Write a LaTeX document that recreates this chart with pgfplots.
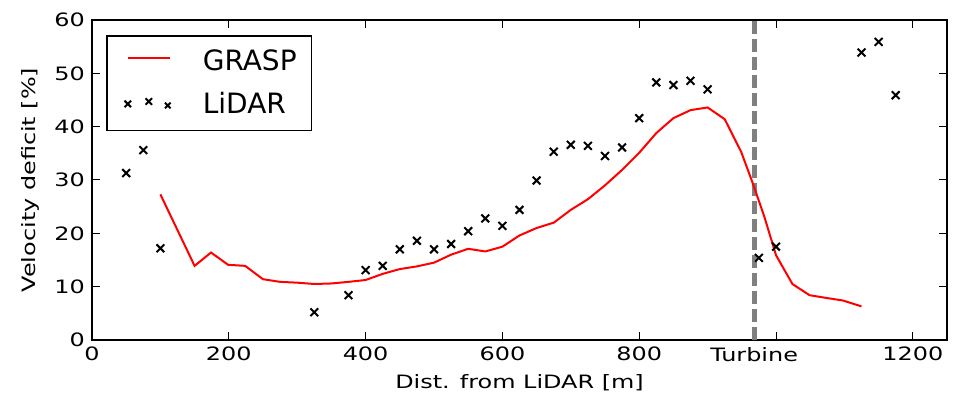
\documentclass[border=0pt]{standalone}
\usepackage{fontspec}
\setmainfont{DejaVu Sans}
\newfontfamily\widefont{DejaVu Sans}[FakeStretch=1.3]
\usepackage{pgfplots}
\pgfplotsset{compat=1.18}
\definecolor{turbgray}{RGB}{128,128,128}
\pgfplotsset{
    shortline legend/.style={
        legend image code/.code={\path (0pt,0pt); \draw[##1] (2.5pt,1.8pt) -- (23.5pt,1.8pt);}},
    threemarks legend/.style={
        legend image code/.code={\path (0pt,0pt);
            \draw[##1, mark size=2.3pt] plot coordinates {(2.5pt,0.2pt) (13pt,1.4pt)};
            \draw[##1, mark size=2pt] plot coordinates {(22.5pt,-0.6pt)};}},
}

\begin{document}
\begin{tikzpicture}
\begin{axis}[
    scale only axis,
    width=427.5pt, height=160pt,
    xmin=0, xmax=1250,
    ymin=0, ymax=60,
    xtick={0,200,400,600,800,968,1200},
    xticklabels={0,200,400,600,800,Turbine,1200},
    extra x ticks={1000},
    extra x tick labels={},
    ytick={0,10,...,60},
    tick align=inside,
    tick pos=both,
    major tick length=4pt,
    axis line style={line width=0.8pt},
    every tick/.style={black, line width=0.5pt},
    /pgf/number format/assume math mode=true,
    tick label style={font=\widefont\fontsize{9.2}{11}\selectfont},
    every axis x label/.style={at={(axis description cs:0.5,0)}, yshift=-21.5pt,
        anchor=center, font=\widefont\fontsize{9.2}{11}\selectfont},
    every axis y label/.style={at={(axis description cs:0,0.5)}, xshift=-31pt,
        rotate=90, anchor=center, font=\widefont\fontsize{9.2}{11}\selectfont},
    xlabel={Dist. from LiDAR [m]},
    ylabel={Velocity deficit [\%]},
    legend style={
        at={(axis description cs:0,1)}, anchor=north west,
        xshift=7pt, yshift=-7.5pt,
        draw=black, line width=0.8pt,
        font=\fontsize{14}{16}\selectfont,
        inner xsep=7.5pt, inner ysep=7pt,
        nodes={inner sep=0pt},
        row sep=9.3pt,
        /tikz/every odd column/.append style={column sep=16pt},
    },
    legend cell align=left,
]
\addplot[turbgray, line width=2.5pt, dash pattern=on 6.5pt off 2.5pt, forget plot]
    coordinates {(968,0) (968,60)};

\addplot[red, line width=1pt, shortline legend]
    coordinates {
    (100,27.3) (125,20.6) (150,13.9) (174,16.4) (199,14.1) (224,13.9)
    (250,11.4) (275,10.9) (300,10.75) (325,10.5) (350,10.6) (375,10.9)
    (400,11.25) (425,12.4) (450,13.3) (475,13.8) (500,14.5) (525,16.0)
    (550,17.1) (575,16.6) (600,17.5) (625,19.6) (650,21.0) (675,22.0)
    (700,24.4) (725,26.4) (750,29.0) (775,31.9) (800,35.1) (825,38.8)
    (850,41.6) (875,43.1) (900,43.6) (925,41.4) (949,35.3) (966,29.4)
    (983,23.1) (1000,15.9) (1024,10.5) (1049,8.4) (1073,7.9) (1098,7.4)
    (1125,6.3)
    };
\addlegendentry{GRASP}

\addplot[only marks, mark=x, mark size=2.75pt, black, line width=1pt, threemarks legend]
    coordinates {
    (50,31.3) (75,35.6) (100,17.2) (325,5.2) (375,8.4) (400,13.1)
    (425,13.9) (450,17.0) (475,18.6) (500,17.0) (525,18.0) (550,20.4)
    (575,22.8) (600,21.4) (625,24.4) (650,29.9) (675,35.3) (700,36.6)
    (725,36.4) (750,34.5) (775,36.1) (800,41.6) (825,48.3) (850,47.8)
    (875,48.6) (900,47.0) (975,15.4) (1000,17.5) (1125,53.9) (1150,55.9)
    (1175,45.9)
    };
\addlegendentry{LiDAR}
\end{axis}
\pgfresetboundingbox
\path ([shift={(-46pt,-33pt)}]current axis.south west) rectangle ([shift={(5pt,10pt)}]current axis.north east);
\end{tikzpicture}
\end{document}
